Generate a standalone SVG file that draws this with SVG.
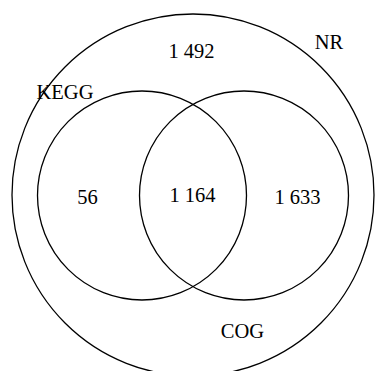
<svg xmlns="http://www.w3.org/2000/svg" width="375" height="371" viewBox="0 0 375 371">
<style>
.c{fill:none;stroke:#000;stroke-width:1.3}
.t{font-family:"Liberation Serif","Times New Roman",serif;font-size:20.5px;fill:#000;text-anchor:middle}
</style>
<rect width="375" height="371" fill="#fff"/>
<g id="NR">
<circle class="c" cx="193" cy="195" r="181"/>
<text class="t" x="329" y="49">NR</text>
<text class="t" x="191.5" y="58">1 492</text>
</g>
<g id="KEGG">
<circle class="c" cx="142" cy="195.5" r="104.5"/>
<text class="t" x="65" y="99">KEGG</text>
<text class="t" x="87.5" y="204">56</text>
</g>
<g id="COG">
<circle class="c" cx="244" cy="195.5" r="104.5"/>
<text class="t" x="242.5" y="338">COG</text>
<text class="t" x="297.5" y="204">1 633</text>
</g>
<g id="overlap">
<text class="t" x="192.5" y="201.5">1 164</text>
</g>
</svg>
